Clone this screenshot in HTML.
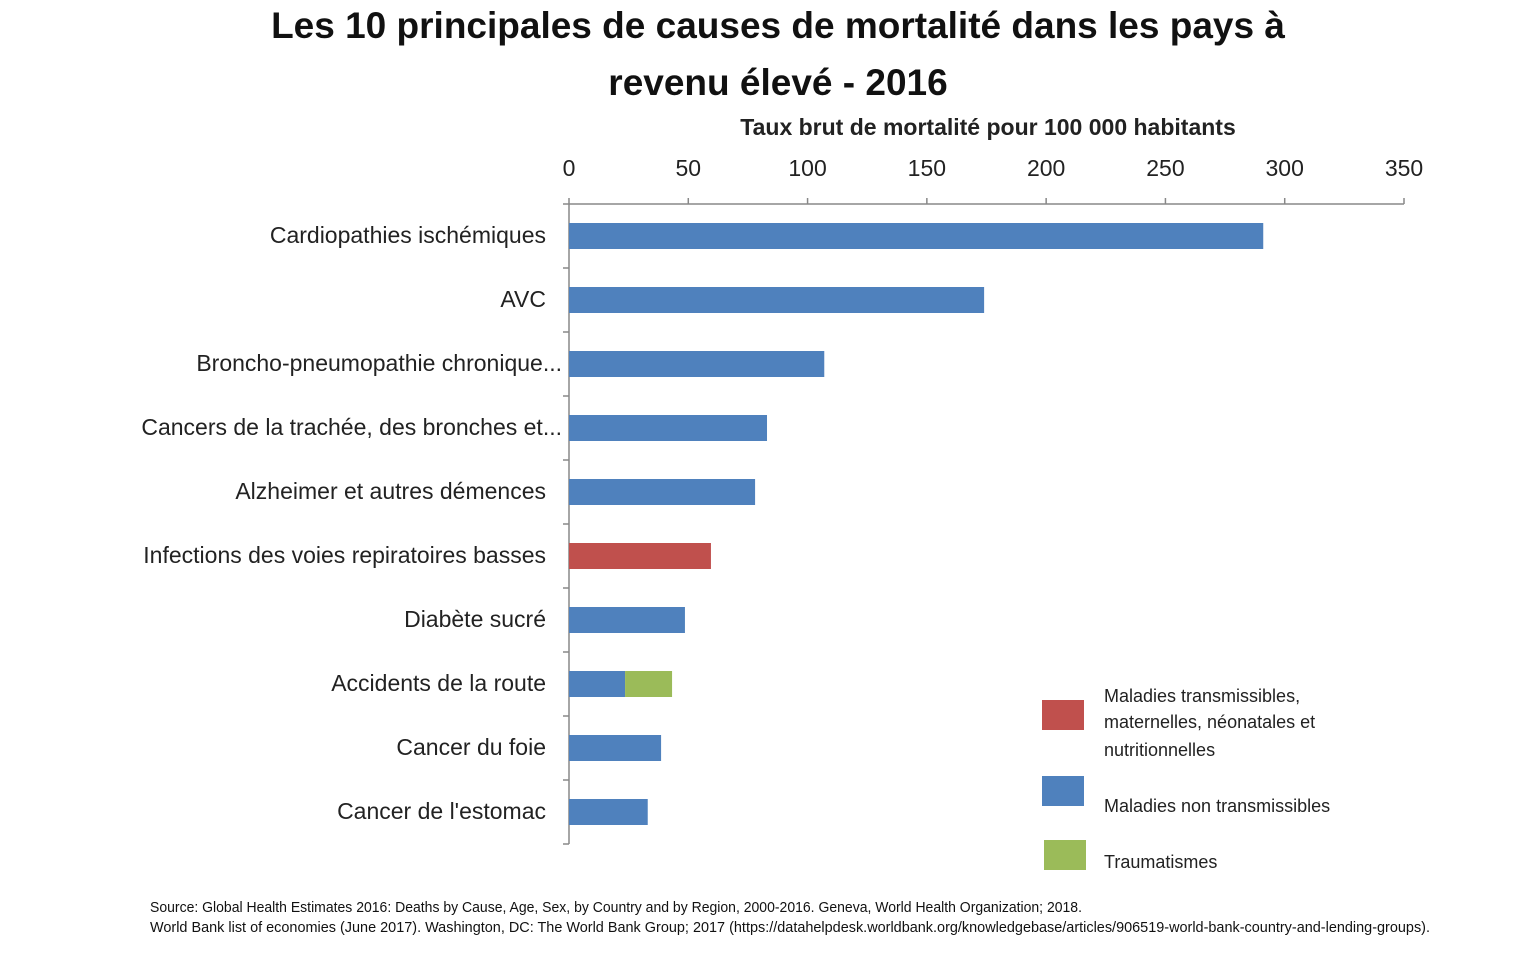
<!DOCTYPE html>
<html><head><meta charset="utf-8"><style>
html,body{margin:0;padding:0;background:#fff;}
svg{display:block;font-family:"Liberation Sans",sans-serif;}
</style></head><body>
<svg id="chart" width="1524" height="962" viewBox="0 0 1524 962">
<text x="778" y="38" text-anchor="middle" font-size="37" font-weight="bold" fill="#111">Les 10 principales de causes de mortalité dans les pays à</text>
<text x="778" y="95" text-anchor="middle" font-size="37" font-weight="bold" fill="#111">revenu élevé - 2016</text>
<text x="988" y="135" text-anchor="middle" font-size="23" font-weight="bold" fill="#222">Taux brut de mortalité pour 100 000 habitants</text>
<g id="axes"></g>
<g id="bars"></g>
<g id="legend">
 <rect x="1042" y="700" width="42" height="30" fill="#c0504d"/>
 <text x="1104" y="702" font-size="18" fill="#222"><tspan x="1104" dy="0">Maladies transmissibles,</tspan><tspan x="1104" dy="26">maternelles, néonatales et</tspan><tspan x="1104" dy="28">nutritionnelles</tspan></text>
 <rect x="1042" y="776" width="42" height="30" fill="#4f81bd"/>
 <text x="1104" y="812" font-size="18" fill="#222">Maladies non transmissibles</text>
 <rect x="1044" y="840" width="42" height="30" fill="#9bbb59"/>
 <text x="1104" y="868" font-size="18" fill="#222">Traumatismes</text>
</g>
<text x="150" y="912" font-size="15" fill="#111" textLength="932" lengthAdjust="spacingAndGlyphs">Source: Global Health Estimates 2016: Deaths by Cause, Age, Sex, by Country and by Region, 2000-2016. Geneva, World Health Organization; 2018.</text>
<text x="150" y="932" font-size="15" fill="#111" textLength="1280" lengthAdjust="spacingAndGlyphs">World Bank list of economies (June 2017). Washington, DC: The World Bank Group; 2017 (https://datahelpdesk.worldbank.org/knowledgebase/articles/906519-world-bank-country-and-lending-groups).</text>
</svg>
<script>
const categories = ["Cardiopathies ischémiques","AVC","Broncho-pneumopathie chronique...","Cancers de la trachée, des bronches et...","Alzheimer et autres démences","Infections des voies repiratoires basses","Diabète sucré","Accidents de la route","Cancer du foie","Cancer de l'estomac"];
const communicable = [0,0,0,0,0,59.5,0,0,0,0];
const noncommunicable = [291,174,107,83,78,0,48.6,23.5,38.6,33];
const injuries = [0,0,0,0,0,0,0,19.7,0,0];
const ticks = [0,50,100,150,200,250,300,350];

const NS="http://www.w3.org/2000/svg";
const x0=569, x1=1404, xmax=350, yTop=204, rowH=64, barH=26;
const xs=v=>x0+(v/xmax)*(x1-x0);
const yc=i=>yTop+rowH*i+rowH/2;
function mk(tag,attrs,parent){const e=document.createElementNS(NS,tag);for(const k in attrs)e.setAttribute(k,attrs[k]);parent.appendChild(e);return e;}
const axes=document.getElementById('axes'), bars=document.getElementById('bars');
const yBot=yTop+rowH*categories.length;
let l=mk('line',{x1:x0,y1:yTop,x2:x1,y2:yTop,stroke:'#888','stroke-width':1.5},axes);


l=mk('line',{x1:x0,y1:yTop,x2:x0,y2:yBot,stroke:'#888','stroke-width':1.5},axes);


ticks.forEach(t=>{
  const tk=mk('line',{x1:xs(t),y1:yTop-6,x2:xs(t),y2:yTop,stroke:'#888','stroke-width':1.5},axes);
  
  
  const tx=mk('text',{x:xs(t),y:176,'text-anchor':'middle','font-size':23,fill:'#222'},axes);
  tx.textContent=t;
  
  
});
for(let i=0;i<=categories.length;i++){
  const tk=mk('line',{x1:x0-6,y1:yTop+rowH*i,x2:x0,y2:yTop+rowH*i,stroke:'#888','stroke-width':1.5},axes);
  
  
}
categories.forEach((c,i)=>{
  const trunc=c.endsWith('...');
  const tx=mk('text',{x:trunc?562:546,y:yc(i)+7,'text-anchor':'end','font-size':23,fill:'#222'},axes);
  tx.textContent=c;
  
  
  let acc=0;
  [[noncommunicable,'#4f81bd','bar-noncommunicable'],[communicable,'#c0504d','bar-communicable'],[injuries,'#9bbb59','bar-injuries']].forEach(([arr,col,nm])=>{
    const v=arr[i]; if(!v) return;
    const r=mk('rect',{x:xs(acc),y:yc(i)-barH/2,width:xs(acc+v)-xs(acc),height:barH,fill:col},bars);
    
    
    acc+=v;
  });
});
</script>
</body></html>
